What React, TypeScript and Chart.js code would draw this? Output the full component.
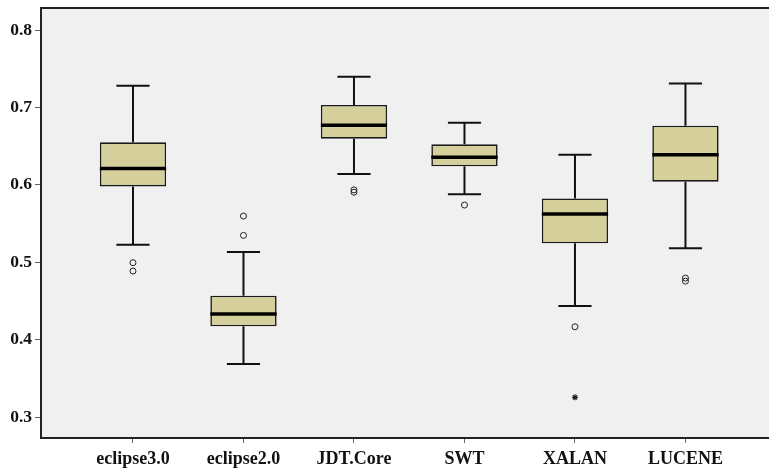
import React, { useEffect, useRef } from 'react';
import { Chart, registerables } from 'chart.js';

Chart.register(...registerables);

const categories = ['eclipse3.0', 'eclipse2.0', 'JDT.Core', 'SWT', 'XALAN', 'LUCENE'];
const whiskerLow = [0.5226, 0.3685, 0.614, 0.5877, 0.4434, 0.518];
const q1 = [0.598, 0.4172, 0.6597, 0.6239, 0.5244, 0.6041];
const median = [0.621, 0.4331, 0.677, 0.6355, 0.5623, 0.6389];
const q3 = [0.655, 0.4567, 0.7033, 0.6523, 0.5825, 0.6765];
const whiskerHigh = [0.728, 0.5132, 0.7397, 0.6802, 0.6389, 0.7308];
const outlierCat = [0, 0, 1, 1, 2, 2, 3, 4, 5, 5];
const outlierVal = [0.4994, 0.4886, 0.5597, 0.5347, 0.5935, 0.5905, 0.5739, 0.4166, 0.4795, 0.4755];
const extremeCat = [4];
const extremeVal = [0.3254];
const yTicks = [0.3, 0.4, 0.5, 0.6, 0.7, 0.8];

export default function App() {
  const ref = useRef<HTMLCanvasElement>(null);

  useEffect(() => {
    if (!ref.current) return;
    const boxParts = {
      id: 'boxParts',
      beforeDraw(chart: any) {
        const { ctx, chartArea: a } = chart;
        ctx.save();
        ctx.fillStyle = '#f0f0f0';
        ctx.fillRect(a.left, a.top, a.right - a.left, a.bottom - a.top);
        ctx.restore();
      },
      beforeDatasetsDraw(chart: any) {
        const { ctx } = chart;
        const xs = chart.scales.x;
        const ys = chart.scales.y;
        const unit = xs.getPixelForValue(1) - xs.getPixelForValue(0);
        const capHalf = unit * 0.15;
        ctx.save();
        ctx.strokeStyle = '#111';
        ctx.lineWidth = 2;
        categories.forEach((_, i) => {
          const x = xs.getPixelForValue(i);
          const yl = ys.getPixelForValue(whiskerLow[i]);
          const yh = ys.getPixelForValue(whiskerHigh[i]);
          const y1 = ys.getPixelForValue(q1[i]);
          const y3 = ys.getPixelForValue(q3[i]);
          ctx.beginPath();
          ctx.moveTo(x, yh);
          ctx.lineTo(x, y3);
          ctx.moveTo(x, y1);
          ctx.lineTo(x, yl);
          ctx.moveTo(x - capHalf, yh);
          ctx.lineTo(x + capHalf, yh);
          ctx.moveTo(x - capHalf, yl);
          ctx.lineTo(x + capHalf, yl);
          ctx.stroke();
        });
        ctx.restore();
      },
      afterDatasetsDraw(chart: any) {
        const { ctx, chartArea: a } = chart;
        const xs = chart.scales.x;
        const ys = chart.scales.y;
        const unit = xs.getPixelForValue(1) - xs.getPixelForValue(0);
        const half = unit * 0.3;
        ctx.save();
        ctx.strokeStyle = '#000';
        ctx.lineWidth = 3.5;
        categories.forEach((_, i) => {
          const x = xs.getPixelForValue(i);
          const y = ys.getPixelForValue(median[i]);
          ctx.beginPath();
          ctx.moveTo(x - half, y);
          ctx.lineTo(x + half, y);
          ctx.stroke();
        });
        ctx.strokeStyle = '#222';
        ctx.lineWidth = 2;
        ctx.beginPath();
        ctx.moveTo(a.left, a.top);
        ctx.lineTo(a.right, a.top);
        ctx.stroke();
        ctx.restore();
      },
    };

    const chart = new Chart(ref.current, {
      type: 'bar',
      data: {
        datasets: [
          {
            type: 'bar',
            data: categories.map((_, i) => ({ x: i, y: [q1[i], q3[i]] })) as any,
            backgroundColor: '#d4cf9b',
            borderColor: '#1a1a1a',
            borderWidth: 1.6,
            borderSkipped: false,
            barPercentage: 0.6,
            categoryPercentage: 1,
          },
          {
            type: 'scatter',
            data: outlierCat.map((c, i) => ({ x: c, y: outlierVal[i] })),
            pointStyle: 'circle',
            pointRadius: 3,
            backgroundColor: 'rgba(0,0,0,0)',
            borderColor: '#222',
            borderWidth: 1,
          },
          {
            type: 'scatter',
            data: extremeCat.map((c, i) => ({ x: c, y: extremeVal[i] })),
            pointStyle: 'star',
            pointRadius: 3,
            backgroundColor: '#222',
            borderColor: '#222',
            borderWidth: 1.2,
          },
        ] as any,
      },
      options: {
        responsive: false,
        animation: false,
        devicePixelRatio: 1,
        layout: { autoPadding: false, padding: { top: 8, right: 0, left: 0, bottom: 0 } },
        plugins: { legend: { display: false }, tooltip: { enabled: false } },
        events: [],
        scales: {
          x: {
            type: 'linear',
            min: -0.8326,
            max: 5.756,
            offset: false,
            afterFit(scale: any) {
              scale.height = 30;
              scale.paddingLeft = 0;
              scale.paddingRight = 0;
            },
            afterBuildTicks(scale: any) {
              scale.ticks = categories.map((_, i) => ({ value: i }));
            },
            grid: { drawOnChartArea: false, drawTicks: true, tickLength: 5, color: '#666', offset: false },
            border: { display: true, color: '#222', width: 2 },
            ticks: {
              autoSkip: false,
              maxRotation: 0,
              padding: 6,
              color: '#111',
              font: { family: '"Liberation Serif", serif', size: 18, weight: 'bold' },
              callback: (v: any) => categories[Math.round(Number(v))] ?? '',
            },
          },
          y: {
            type: 'linear',
            min: 0.2729,
            max: 0.8285,
            afterFit(scale: any) {
              scale.width = 41;
              scale.paddingTop = 0;
              scale.paddingBottom = 0;
            },
            afterBuildTicks(scale: any) {
              scale.ticks = yTicks.map((v) => ({ value: v }));
            },
            grid: { drawOnChartArea: false, drawTicks: true, tickLength: 6, color: '#666' },
            border: { display: true, color: '#222', width: 2 },
            ticks: {
              padding: 3,
              color: '#111',
              font: { family: '"Liberation Serif", serif', size: 17.5, weight: 'bold' },
              callback: (v: any) => Number(v).toFixed(1),
            },
          },
        },
      } as any,
      plugins: [boxParts],
    });
    return () => chart.destroy();
  }, []);

  return (
    <div style={{ position: 'fixed', left: 0, top: 0, width: 769, height: 468, background: '#fff' }}>
      <canvas ref={ref} width={769} height={468} style={{ display: 'block', width: 769, height: 468 }} />
    </div>
  );
}
